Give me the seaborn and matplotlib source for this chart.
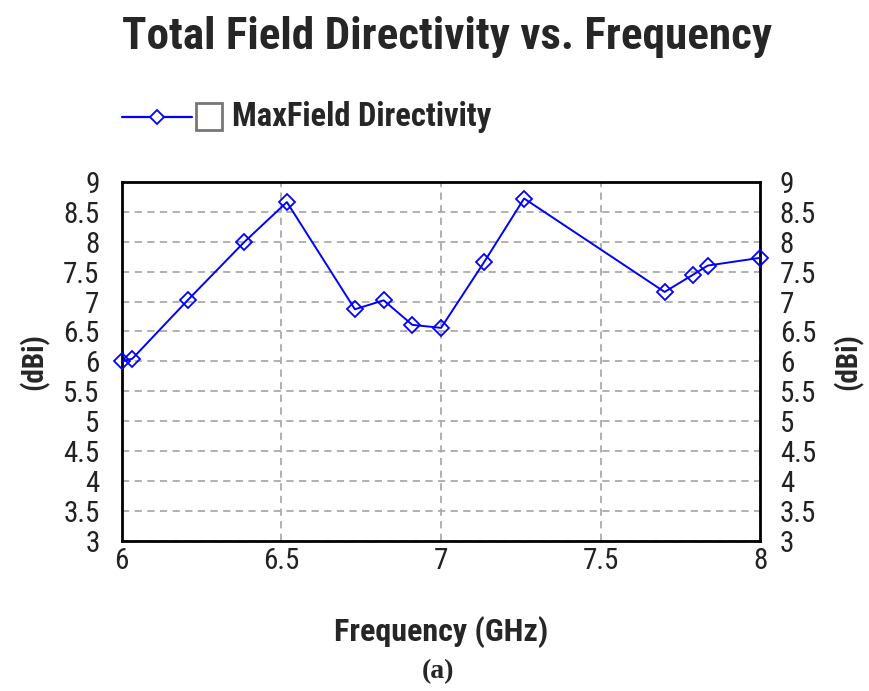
import matplotlib
matplotlib.use("Agg")
import matplotlib.pyplot as plt
import seaborn as sns
import pandas as pd
from matplotlib.lines import Line2D
from matplotlib.patches import Rectangle

freq_ghz = [6.0, 6.033, 6.206, 6.383, 6.517, 6.73, 6.82, 6.91, 7.0, 7.135, 7.26, 7.70, 7.79, 7.835, 8.0]
directivity_dbi = [6.0, 6.045, 7.02, 7.99, 8.66, 6.87, 7.02, 6.61, 6.56, 7.66, 8.72, 7.16, 7.45, 7.6, 7.73]
x_ticks = [6, 6.5, 7, 7.5, 8]
x_tick_labels = ["6", "6.5", "7", "7.5", "8"]
y_ticks = [3, 3.5, 4, 4.5, 5, 5.5, 6, 6.5, 7, 7.5, 8, 8.5, 9]
y_tick_labels = ["3", "3.5", "4", "4.5", "5", "5.5", "6", "6.5", "7", "7.5", "8", "8.5", "9"]
title = "Total Field Directivity vs. Frequency"
series_name = "MaxField Directivity"

sns.set_theme(style="white")
narrow = ["Liberation Sans Narrow", "Roboto Condensed", "DejaVu Sans Condensed", "DejaVu Sans"]
plt.rcParams["font.family"] = narrow

df = pd.DataFrame({"f": freq_ghz, "d": directivity_dbi})

fig = plt.figure(figsize=(8.7, 6.91), dpi=100)
ax = fig.add_axes([0.140, 0.217, 0.734, 0.520])
sns.lineplot(data=df, x="f", y="d", ax=ax, color="#0000ff", marker="D", markersize=8,
             markerfacecolor="none", markeredgecolor="#0000ff", markeredgewidth=1.3,
             linewidth=1.4, clip_on=False, zorder=5)
ax.set_xlim(6, 8)
ax.set_ylim(3, 9)
ax.set_xticks(x_ticks)
ax.set_xticklabels(x_tick_labels)
ax.set_yticks(y_ticks)
ax.set_yticklabels(y_tick_labels)
ax.grid(True, color="#aaaaaa", linestyle=(0, (4, 3)), linewidth=1.3)
for s in ax.spines.values():
    s.set_color("black")
    s.set_linewidth(2)
ax.tick_params(axis="x", which="both", length=0, labelsize=21, colors="#222222", pad=4)
ax.tick_params(axis="y", which="both", length=0, labelsize=21, colors="#222222", pad=16)
ax.set_xlabel("Frequency (GHz)", fontsize=23, fontweight="bold", labelpad=30)
ax.set_ylabel("(dBi)", fontsize=21, fontweight="bold", labelpad=10)

ax2 = ax.twinx()
ax2.set_ylim(3, 9)
ax2.set_yticks(y_ticks)
ax2.set_yticklabels(y_tick_labels)
ax2.tick_params(axis="y", length=0, labelsize=21, colors="#222222", pad=14)
ax2.set_ylabel("(dBi)", fontsize=21, fontweight="bold", labelpad=12)
for s in ax2.spines.values():
    s.set_visible(False)

fig.text(0.140, 0.947, title, fontsize=32.5, fontweight="bold", ha="left", va="center")

# legend
ly = 1 - 117 / 691
fig.add_artist(Line2D([122 / 870, 192 / 870], [ly, ly], color="#0000ff", linewidth=1.6))
fig.add_artist(Line2D([157 / 870], [ly], color="#0000ff", marker="D", markersize=7,
                      markerfacecolor="white", markeredgecolor="#0000ff", markeredgewidth=1.3))
fig.add_artist(Rectangle((196 / 870, 1 - 130 / 691), 26 / 870, 27 / 691, transform=fig.transFigure,
                         facecolor="white", edgecolor="#777777", linewidth=2))
fig.text(232 / 870, ly, series_name, fontsize=23.5, fontweight="bold", ha="left", va="center")

fig.text(0.503, 1 - 672 / 691, "(a)", fontsize=20, fontweight="bold", ha="center", va="center",
         family=["Liberation Serif", "DejaVu Serif"])

fig.savefig("out.png", dpi=100)
